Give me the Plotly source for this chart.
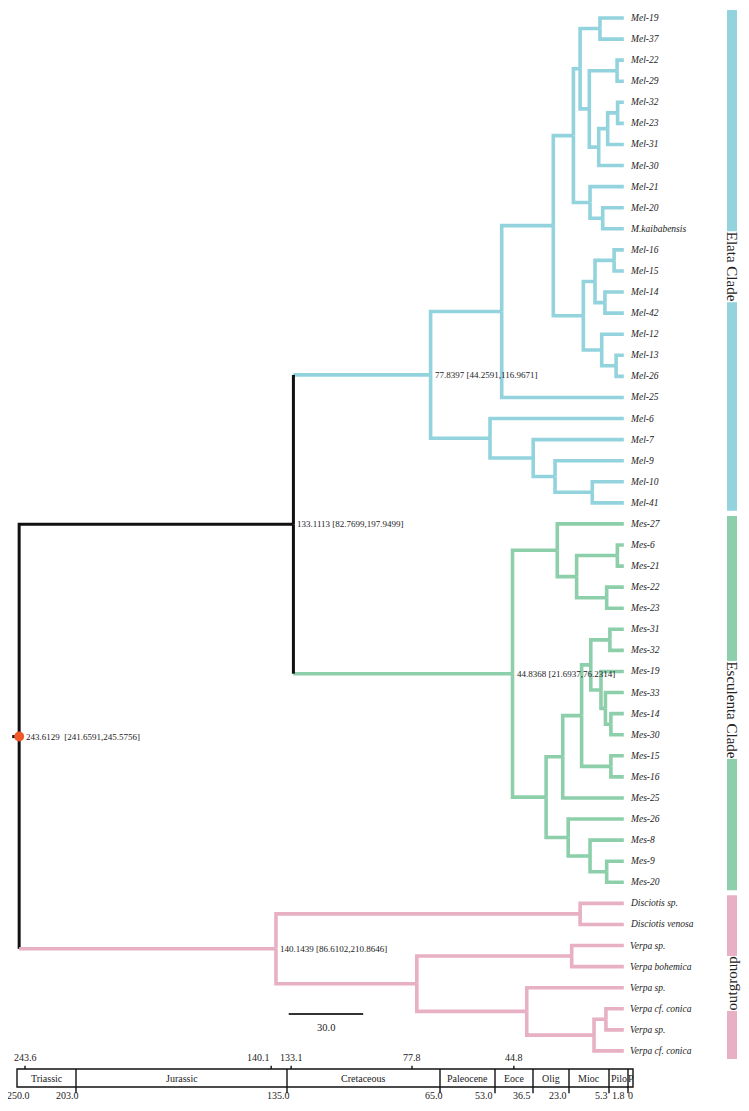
import numpy as np
import plotly.graph_objects as go

# ---------------- data ----------------
# tree topology: (node age in Ma, child, child); leaves are tip labels
elata_tree = (77.84,
    (49.2,
        (28.4,
            (20.3,
                (17.6, (9.6, "Mel-19", "Mel-37"),
                       (13.9, (2.7, "Mel-22", "Mel-29"),
                              (10.1, (6.5, (2.5, "Mel-32", "Mel-23"), "Mel-31"), "Mel-30"))),
                (13.6, "Mel-21", (8.5, "Mel-20", "M.kaibabensis"))),
            (16.3, (11.6, (3.9, "Mel-16", "Mel-15"), (7.6, "Mel-14", "Mel-42")),
                   (8.9, "Mel-12", (3.1, "Mel-13", "Mel-26")))),
        "Mel-25"),
    (53.9, "Mel-6", (36.5, "Mel-7", (27.7, "Mel-9", (12.7, "Mel-10", "Mel-41")))))

esculenta_tree = (44.84,
    (26.8, "Mes-27", (19.0, (2.6, "Mes-6", "Mes-21"), (6.9, "Mes-22", "Mes-23"))),
    (31.3,
        (24.6,
            (17.0,
                (13.3, (5.6, "Mes-31", "Mes-32"),
                       (9.2, "Mes-19", (7.4, "Mes-33", (5.2, "Mes-14", "Mes-30")))),
                (5.2, "Mes-15", "Mes-16")),
            "Mes-25"),
        (22.4, "Mes-26", (13.6, "Mes-8", (6.9, "Mes-9", "Mes-20")))))

outgroup_tree = (140.14,
    (17.6, "Disciotis sp.", "Disciotis venosa"),
    (83.4, (21.0, "Verpa sp.", "Verpa bohemica"),
           (39.1, "Verpa sp.", (12.0, (7.2, "Verpa cf. conica", "Verpa sp."), "Verpa cf. conica"))))

morchella_node = (133.11, elata_tree, esculenta_tree)
root_tree = (243.61, morchella_node, outgroup_tree)

clade_names = ["Elata Clade", "Esculenta Clade", "outgroup"]

node_labels = {
    243.61: "243.6129\u00a0 [241.6591,245.5756]",
    133.11: "133.1113 [82.7699,197.9499]",
    77.84: "77.8397 [44.2591,116.9671]",
    44.84: "44.8368 [21.6937,76.2314]",
    140.14: "140.1439 [86.6102,210.8646]",
}

# geological time scale
period_names = ["Triassic", "Jurassic", "Cretaceous", "Paleocene", "Eoce", "Olig", "Mioc", "Pilo", "P"]
period_bounds = [250.0, 203.0, 135.0, 65.0, 53.0, 36.5, 23.0, 5.3, 1.8, 0.0]
node_ticks = [243.6, 140.1, 133.1, 77.8, 44.8]
scale_bar_len = 30.0

# ---------------- style ----------------
CYAN = "#92d3de"
GREEN = "#8dcfaa"
PINK = "#e7b0c4"
BLACK = "#111111"
DOT = "#ee5a2a"
SERIF = "Liberation Serif, Times New Roman, serif"
clade_colors = [CYAN, GREEN, PINK]
clade_trees = [elata_tree, esculenta_tree, outgroup_tree]
color_of = {id(t): c for t, c in zip(clade_trees, clade_colors)}

# page body has an 8px margin, so the figure is a bit smaller than the window
FIG_W, FIG_H = 741, 1103
PX_PER_TIP = 21.08
PX_PER_MA = 2.482
TIP0_PX = 10.0       # y pixel of first tip
AGE0_PX = 615.8      # x pixel of age 0
BAR_X0, BAR_X1 = 719, 729   # clade bar column (px)

# the geological strip is drawn schematically (not to scale): display width of each period box
STRIP_LEFT = 9
STRIP_WIDTHS = [59, 211, 153, 55, 38, 36, 40, 19, 5]

# ---------------- layout of the tree ----------------
segs = {}
tips = []
node_pos = {}
clade_span = {}


def add_path(color, pts):
    segs.setdefault(color, []).append(pts)


def walk(node, color, clade=None):
    color = color_of.get(id(node), color)
    if id(node) in color_of:
        clade = id(node)
    if isinstance(node, str):
        y = float(len(tips))
        tips.append((node, y))
        if clade is not None:
            s = clade_span.setdefault(clade, [y, y])
            s[0], s[1] = min(s[0], y), max(s[1], y)
        return 0.0, y, color
    age = node[0]
    kids = [walk(c, color, clade) for c in node[1:]]
    y = (kids[0][1] + kids[-1][1]) / 2.0
    for (ka, ky, kc) in kids:
        if kc == color:
            add_path(color, [(age, y), (age, ky), (ka, ky)])
        else:
            add_path(color, [(age, y), (age, ky)])
            add_path(kc, [(age, ky), (ka, ky)])
    node_pos[age] = y
    return age, y, color


_, root_y, _ = walk(root_tree, BLACK)
n_tips = len(tips)
last = n_tips - 1

fig = go.Figure()
for color, paths in segs.items():
    xs, ys = [], []
    for p in paths:
        xs += [q[0] for q in p] + [None]
        ys += [q[1] for q in p] + [None]
    fig.add_trace(go.Scatter(x=xs, y=ys, mode="lines",
                             line=dict(color=color, width=3 if color == BLACK else 3.6),
                             hoverinfo="skip", showlegend=False))

# root stem + dot
root_age = root_tree[0]
fig.add_trace(go.Scatter(x=[root_age + 2.8, root_age], y=[root_y, root_y], mode="lines",
                         line=dict(color=BLACK, width=3), hoverinfo="skip", showlegend=False))
fig.add_trace(go.Scatter(x=[root_age], y=[root_y], mode="markers",
                         marker=dict(color=DOT, size=10), hoverinfo="skip", showlegend=False))

annotations = []
for name, y in tips:
    annotations.append(dict(x=0, y=y, text="<i>%s</i>" % name, showarrow=False,
                            xanchor="left", yanchor="middle", xshift=4,
                            font=dict(family=SERIF, size=9.5, color="#222")))
for age, txt in node_labels.items():
    annotations.append(dict(x=age, y=node_pos[age], text=txt, showarrow=False,
                            xanchor="left", yanchor="middle",
                            xshift=5 if age == root_age else 2,
                            font=dict(family=SERIF, size=9, color="#222")))

shapes = []
# clade bars with label sitting in a gap of the bar
bar_xc = (BAR_X0 + BAR_X1) / 2 / FIG_W
for t, c, nm in zip(clade_trees, clade_colors, clade_names):
    y0, y1 = clade_span[id(t)]
    shapes.append(dict(type="rect", xref="paper", yref="y", x0=BAR_X0 / FIG_W, x1=BAR_X1 / FIG_W,
                       y0=y0 - 0.38, y1=y1 + 0.38, fillcolor=c, line=dict(width=0)))
    annotations.append(dict(xref="paper", yref="y", x=bar_xc, y=(y0 + y1) / 2 + 0.3, text=nm,
                            showarrow=False, textangle=-90 if nm == "outgroup" else 90,
                            xanchor="center", yanchor="middle", bgcolor="white", borderpad=0,
                            font=dict(family=SERIF, size=15, color="#222")))

# scale bar
sb_y = last - 1.75
sb_x0 = 135.0
shapes.append(dict(type="line", xref="x", yref="y", x0=sb_x0, x1=sb_x0 - scale_bar_len,
                   y0=sb_y, y1=sb_y, line=dict(color="#333", width=2)))
annotations.append(dict(x=sb_x0 - scale_bar_len / 2, y=sb_y + 0.3, text="%.1f" % scale_bar_len,
                        showarrow=False, xanchor="center", yanchor="top",
                        font=dict(family=SERIF, size=10.5, color="#222")))

# geological time scale strip (own schematic scale, mapped by interpolation on boundary ages)
edges_px = STRIP_LEFT + np.concatenate([[0], np.cumsum(STRIP_WIDTHS)])


def strip_x(age):
    return float(np.interp(age, period_bounds[::-1], edges_px[::-1])) / FIG_W


st_top, st_bot = last + 0.86, last + 1.71
shapes.append(dict(type="rect", xref="paper", yref="y", x0=strip_x(period_bounds[0]),
                   x1=strip_x(period_bounds[-1]), y0=st_top, y1=st_bot,
                   line=dict(color=BLACK, width=1.4), fillcolor="white"))
for b in period_bounds[1:-1]:
    shapes.append(dict(type="line", xref="paper", yref="y", x0=strip_x(b), x1=strip_x(b),
                       y0=st_top, y1=st_bot + 0.3, line=dict(color=BLACK, width=1.4)))
for i, nm in enumerate(period_names):
    a, b = period_bounds[i], period_bounds[i + 1]
    annotations.append(dict(xref="paper", x=(strip_x(a) + strip_x(b)) / 2, y=(st_top + st_bot) / 2,
                            text=nm, showarrow=False, xanchor="center", yanchor="middle",
                            font=dict(family=SERIF, size=10, color="#222")))
for t in node_ticks:
    shapes.append(dict(type="line", xref="paper", yref="y", x0=strip_x(t), x1=strip_x(t),
                       y0=st_top - 0.16, y1=st_top, line=dict(color=BLACK, width=1.4)))
    annotations.append(dict(xref="paper", x=strip_x(t), y=st_top - 0.18, text="%.1f" % t,
                            showarrow=False, xanchor="right" if t == 140.1 else "center",
                            yanchor="bottom", xshift=1 if t == 140.1 else 0,
                            font=dict(family=SERIF, size=10, color="#222")))
bound_anchor = {250.0: ("center", 1), 53.0: ("right", 0), 36.5: ("right", 0), 23.0: ("right", 0),
                5.3: ("right", 1), 1.8: ("right", -1), 0.0: ("right", 2)}
for b in period_bounds:
    anc, sh = bound_anchor.get(b, ("right", 5))
    annotations.append(dict(xref="paper", x=strip_x(b), y=st_bot + 0.42,
                            text="%.1f" % b if b != 0 else "0",
                            showarrow=False, xanchor=anc, xshift=sh, yanchor="middle",
                            font=dict(family=SERIF, size=10, color="#222")))

y_top = -TIP0_PX / PX_PER_TIP
y_bot = y_top + FIG_H / PX_PER_TIP
x_left = AGE0_PX / PX_PER_MA
x_right = x_left - FIG_W / PX_PER_MA

fig.update_layout(
    width=FIG_W, height=FIG_H, margin=dict(l=0, r=0, t=0, b=0, autoexpand=False),
    paper_bgcolor="white", plot_bgcolor="white",
    xaxis=dict(range=[x_left, x_right], visible=False, fixedrange=True),
    yaxis=dict(range=[y_bot, y_top], visible=False, fixedrange=True),
    shapes=shapes, annotations=annotations, showlegend=False,
)
fig.write_html("out.html", config={"displayModeBar": False})
